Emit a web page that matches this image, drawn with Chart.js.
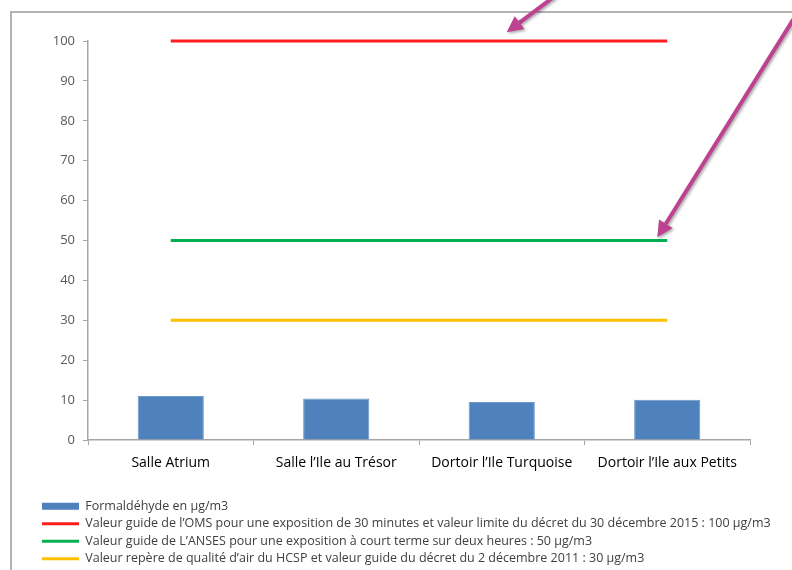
<!DOCTYPE html>
<html lang="fr">
<head>
<meta charset="utf-8">
<title>Formaldéhyde</title>
<script src="https://cdn.jsdelivr.net/npm/chart.js@4.4.1/dist/chart.umd.min.js"></script>
<style>
    html, body { margin: 0; padding: 0; background: #fff; overflow: hidden; }
    #cadre {
        position: absolute; left: 10px; top: 11px;
        width: 820px; height: 600px;
        border: 2px solid #b3b3b3;
    }
    #zone { position: absolute; left: 0; top: 0; width: 792px; height: 570px; }
</style>
</head>
<body>
<div id="cadre"></div>
<div id="zone"><canvas id="chart1" width="792" height="570"></canvas></div>
<script>
// Pièces mesurées
const salles = ['Salle Atrium', 'Salle l’Ile au Trésor', 'Dortoir l’Ile Turquoise', 'Dortoir l’Ile aux Petits'];
// Concentrations mesurées (µg/m3)
const formaldehyde = [11.0, 10.4, 9.5, 10.1];
// Valeurs de référence
const valeurOMS = [100, 100, 100, 100];
const valeurANSES = [50, 50, 50, 50];
const valeurHCSP = [30, 30, 30, 30];

const libelles = [
    'Formaldéhyde en µg/m3',
    'Valeur guide de l’OMS pour une exposition de 30 minutes et valeur limite du décret du 30 décembre 2015 : 100 µg/m3',
    'Valeur guide de L’ANSES pour une exposition à court terme sur deux heures : 50 µg/m3',
    'Valeur repère de qualité d’air du HCSP et valeur guide du décret du 2 décembre 2011 : 30 µg/m3'
];

// Flèches d'annotation : pointe (catégorie, valeur) et décalage de la queue en pixels
const fleches = [
    { x: 2.03, y: 102.2, dx: 48, dy: -36 },
    { x: 2.94, y: 50.8, dx: 136, dy: -218 }
];

const pluginFleches = {
    id: 'fleches',
    afterDatasetsDraw(chart) {
        const ctx = chart.ctx;
        const sx = chart.scales.x, sy = chart.scales.y;
        fleches.forEach(f => {
            const px = sx.getPixelForValue(f.x);
            const py = sy.getPixelForValue(f.y);
            const ang = Math.atan2(f.dy, f.dx);
            const tete = 16;
            const bx = px + Math.cos(ang) * tete;
            const by = py + Math.sin(ang) * tete;
            ctx.save();
            ctx.shadowColor = 'rgba(0,0,0,0.35)';
            ctx.shadowBlur = 3;
            ctx.shadowOffsetX = 1.5;
            ctx.shadowOffsetY = 1.5;
            ctx.strokeStyle = '#bf4192';
            ctx.fillStyle = '#bf4192';
            ctx.lineWidth = 4;
            ctx.beginPath();
            ctx.moveTo(px + f.dx, py + f.dy);
            ctx.lineTo(bx, by);
            ctx.stroke();
            ctx.beginPath();
            ctx.moveTo(px, py);
            ctx.lineTo(bx + Math.cos(ang + Math.PI / 2) * 8, by + Math.sin(ang + Math.PI / 2) * 8);
            ctx.lineTo(bx + Math.cos(ang - Math.PI / 2) * 8, by + Math.sin(ang - Math.PI / 2) * 8);
            ctx.closePath();
            ctx.fill();
            ctx.restore();
        });
    }
};

const ligne = (label, data, couleur) => ({
    type: 'line',
    label: label,
    data: data,
    borderColor: couleur,
    backgroundColor: couleur,
    borderWidth: 3,
    pointRadius: 0,
    fill: false,
    clip: false,
    order: 1
});

const ctx1 = document.getElementById('chart1').getContext('2d');
const chart1 = new Chart(ctx1, {
    type: 'bar',
    data: {
        labels: salles,
        datasets: [
            {
                label: libelles[0],
                data: formaldehyde,
                backgroundColor: '#4f81bd',
                borderColor: '#6e98cc',
                borderWidth: 1,
                barPercentage: 0.4,
                categoryPercentage: 1.0,
                order: 2
            },
            ligne(libelles[1], valeurOMS, '#ff1e1e'),
            ligne(libelles[2], valeurANSES, '#00b050'),
            ligne(libelles[3], valeurHCSP, '#ffc000')
        ]
    },
    options: {
        responsive: false,
        animation: false,
        layout: { padding: { left: 37, right: 0, top: 41, bottom: -5 } },
        plugins: {
            tooltip: { enabled: false },
            legend: {
                position: 'bottom',
                align: 'start',
                labels: {
                    usePointStyle: true,
                    pointStyleWidth: 37,
                    boxHeight: 7,
                    padding: 5,
                    color: '#404040',
                    font: { family: 'Open Sans', size: 12.5 },
                    generateLabels(chart) {
                        return chart.data.datasets.map((ds, i) => ({
                            text: ds.label,
                            datasetIndex: i,
                            fillStyle: ds.backgroundColor,
                            strokeStyle: ds.type === 'line' ? ds.borderColor : ds.backgroundColor,
                            lineWidth: ds.type === 'line' ? 3 : 0,
                            pointStyle: ds.type === 'line' ? 'line' : 'rect',
                            fontColor: '#404040',
                            hidden: false
                        }));
                    }
                }
            }
        },
        scales: {
            x: {
                offset: true,
                grid: { offset: true, drawOnChartArea: false, tickLength: 5, color: '#a6a6a6' },
                border: { color: '#a6a6a6', width: 1.5 },
                ticks: { color: '#000', font: { family: 'Open Sans', size: 14 }, padding: 10, maxRotation: 0 },
                afterFit(scale) { scale.height = 55; }
            },
            y: {
                min: 0,
                max: 100,
                ticks: { stepSize: 10, color: '#595959', font: { family: 'Open Sans', size: 13 }, padding: 8 },
                grid: { drawOnChartArea: false, tickLength: 5, color: '#a6a6a6' },
                border: { color: '#a6a6a6', width: 1.5 },
                afterFit(scale) { scale.width = 51; }
            },
            // marge vide à droite de la zone de tracé
            marge: {
                position: 'right',
                grid: { display: false },
                border: { display: false },
                ticks: { display: false },
                afterFit(scale) { scale.width = 42; }
            }
        }
    },
    plugins: [pluginFleches]
});
</script>
</body>
</html>
